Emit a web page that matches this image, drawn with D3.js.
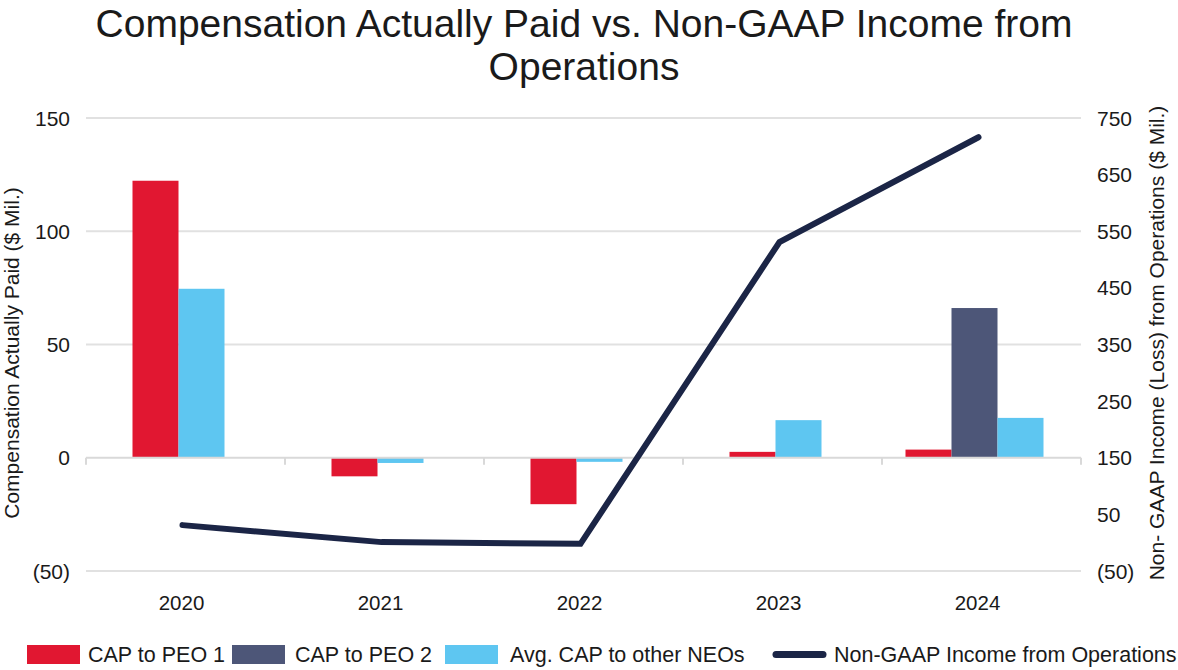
<!DOCTYPE html>
<html>
<head>
<meta charset="utf-8">
<script src="https://cdn.jsdelivr.net/npm/d3@7"></script>
<style>
  body { margin: 0; background: #fff; }
  text { font-family: "Liberation Sans", Arial, sans-serif; fill: #1a1a1a; }
</style>
</head>
<body>
<div id="chart"></div>
<script>
// Dados
var years = ["2020", "2021", "2022", "2023", "2024"];
var capPeo1 = [122.3, -8.2, -20.5, 2.6, 3.6];
var capPeo2 = [null, null, null, null, 66.1];
var capNeos = [74.6, -2.3, -1.8, 16.6, 17.6];
var incomeOps = [31, 1, -2, 531, 716];

var leftTicks = [-50, 0, 50, 100, 150];
var rightTicks = [-50, 50, 150, 250, 350, 450, 550, 650, 750];

var seriesNames = ["CAP to PEO 1", "CAP to PEO 2", "Avg. CAP to other NEOs"];
var seriesColors = ["#e11731", "#4d5678", "#5ec6f1"];
var lineName = "Non-GAAP Income from Operations";
var lineColor = "#1b2546";

var svgWidth = 1178, svgHeight = 670;
var plot = { left: 86, right: 1081, top: 118, bottom: 571 };

var svg = d3.select("#chart").append("svg")
    .attr("width", svgWidth)
    .attr("height", svgHeight);

// Escalas
var x = d3.scaleBand()
    .domain(years)
    .range([plot.left, plot.right]);

var yLeft = d3.scaleLinear()
    .domain([-50, 150])
    .range([plot.bottom, plot.top]);

var yRight = d3.scaleLinear()
    .domain([-50, 750])
    .range([plot.bottom, plot.top]);

var fmt = function (v) { return v < 0 ? "(" + Math.abs(v) + ")" : String(v); };

// Título
var title = svg.append("text")
    .attr("text-anchor", "middle")
    .style("font-size", "39px");
title.append("tspan").attr("x", 584).attr("y", 37)
    .text("Compensation Actually Paid vs. Non-GAAP Income from");
title.append("tspan").attr("x", 584).attr("y", 80)
    .text("Operations");

// Grade
svg.append("g").selectAll("line")
    .data(leftTicks.filter(d => d !== 0))
    .enter().append("line")
    .attr("x1", plot.left).attr("x2", plot.right)
    .attr("y1", d => yLeft(d)).attr("y2", d => yLeft(d))
    .attr("stroke", "#e1e1e1")
    .attr("stroke-width", 2);

// Eixo esquerdo
svg.append("g").selectAll("text")
    .data(leftTicks)
    .enter().append("text")
    .attr("x", 70)
    .attr("y", d => yLeft(d))
    .attr("dy", "0.36em")
    .attr("text-anchor", "end")
    .style("font-size", "21px")
    .text(fmt);

// Eixo direito
svg.append("g").selectAll("text")
    .data(rightTicks)
    .enter().append("text")
    .attr("x", 1097)
    .attr("y", d => yRight(d))
    .attr("dy", "0.36em")
    .style("font-size", "21px")
    .text(fmt);

// Títulos dos eixos
svg.append("text")
    .attr("transform", "translate(19,353) rotate(-90)")
    .attr("text-anchor", "middle")
    .style("font-size", "21px")
    .text("Compensation Actually Paid ($ Mil.)");

svg.append("text")
    .attr("transform", "translate(1164,343) rotate(-90)")
    .attr("text-anchor", "middle")
    .style("font-size", "21px")
    .text("Non- GAAP Income (Loss) from Operations ($ Mil.)");

// Barras
var barW = 46, barShift = -7;
var allSeries = [capPeo1, capPeo2, capNeos];
var barData = [];
years.forEach(function (yr, i) {
    var present = [];
    allSeries.forEach(function (s, k) {
        if (s[i] !== null) present.push({ year: yr, value: s[i], k: k });
    });
    var start = x(yr) + x.bandwidth() / 2 - present.length * barW / 2 + barShift;
    present.forEach(function (d, j) {
        d.x = start + j * barW;
        barData.push(d);
    });
});

svg.append("g").selectAll("rect")
    .data(barData)
    .enter().append("rect")
    .attr("x", d => d.x)
    .attr("width", barW)
    .attr("y", d => yLeft(Math.max(0, d.value)))
    .attr("height", d => Math.abs(yLeft(d.value) - yLeft(0)))
    .attr("fill", d => seriesColors[d.k]);

// Linha do zero com marcas
var zeroY = yLeft(0);
var tickXs = years.map(d => x(d)).concat([plot.right]);
svg.append("path")
    .attr("fill", "none")
    .attr("stroke", "#d9d9d9")
    .attr("stroke-width", 2)
    .attr("d", `M ${plot.left} ${zeroY} L ${plot.right} ${zeroY}`);
svg.append("g").selectAll("line")
    .data(tickXs)
    .enter().append("line")
    .attr("x1", d => d).attr("x2", d => d)
    .attr("y1", zeroY).attr("y2", zeroY + 7)
    .attr("stroke", "#d9d9d9")
    .attr("stroke-width", 2);

// Rótulos das categorias
svg.append("g").selectAll("text")
    .data(years)
    .enter().append("text")
    .attr("x", d => x(d) + x.bandwidth() / 2 - 4)
    .attr("y", 610)
    .attr("text-anchor", "middle")
    .style("font-size", "20.5px")
    .text(d => d);

// Linha de renda
var line = d3.line()
    .x((d, i) => x(years[i]) + x.bandwidth() / 2 - 3)
    .y(d => yRight(d));

svg.append("path")
    .datum(incomeOps)
    .attr("fill", "none")
    .attr("stroke", lineColor)
    .attr("stroke-width", 6)
    .attr("stroke-linecap", "round")
    .attr("d", line);

// Legenda
var legendX = [27, 232, 445];
var lg = svg.append("g");
seriesNames.forEach(function (name, k) {
    lg.append("rect")
        .attr("x", legendX[k]).attr("y", 645)
        .attr("width", 53).attr("height", 19)
        .attr("fill", seriesColors[k]);
    lg.append("text")
        .attr("x", legendX[k] + 61 + k * 2).attr("y", 662)
        .style("font-size", "21.5px")
        .text(name);
});
lg.append("line")
    .attr("x1", 776).attr("x2", 823)
    .attr("y1", 654.5).attr("y2", 654.5)
    .attr("stroke", lineColor)
    .attr("stroke-width", 7)
    .attr("stroke-linecap", "round");
lg.append("text")
    .attr("x", 834).attr("y", 662)
    .style("font-size", "21.5px")
    .text(lineName);
</script>
</body>
</html>
